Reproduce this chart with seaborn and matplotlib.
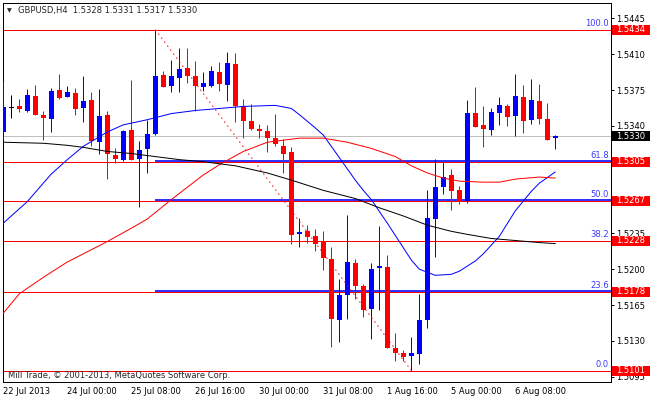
import matplotlib
matplotlib.use('Agg')
import matplotlib.pyplot as plt
import matplotlib.transforms as mtransforms
from matplotlib.patches import Rectangle
import seaborn as sns
import numpy as np

# GBPUSD H4 candles, bar 0 = 22 Jul 2013
opens = [1.5334, 1.5358, 1.5359, 1.5355, 1.5369, 1.5351, 1.5347, 1.5375, 1.5368, 1.5372,
         1.5357, 1.5365, 1.5324, 1.5351, 1.5312, 1.5307, 1.5336, 1.5308, 1.5317, 1.5332,
         1.5390, 1.5379, 1.5387, 1.5397, 1.5389, 1.5378, 1.5379, 1.5393, 1.5380, 1.5400,
         1.5359, 1.5345, 1.5337, 1.5335, 1.5328, 1.5320, 1.5314, 1.5234, 1.5237, 1.5232,
         1.5227, 1.5210, 1.5150, 1.5175, 1.5206, 1.5184, 1.5161, 1.5201, 1.5202, 1.5123,
         1.5118, 1.5115, 1.5117, 1.5150, 1.5249, 1.5280, 1.5292, 1.5277, 1.5267, 1.5353,
         1.5341, 1.5336, 1.5353, 1.5359, 1.5350, 1.5368, 1.5346, 1.5364, 1.5347, 1.5328]
highs = [1.5384, 1.5370, 1.5366, 1.5376, 1.5380, 1.5355, 1.5377, 1.5391, 1.5379, 1.5377,
         1.5389, 1.5373, 1.5376, 1.5355, 1.5318, 1.5336, 1.5385, 1.5325, 1.5346, 1.5434,
         1.5394, 1.5404, 1.5416, 1.5416, 1.5403, 1.5393, 1.5398, 1.5402, 1.5412, 1.5411,
         1.5366, 1.5361, 1.5342, 1.5341, 1.5352, 1.5327, 1.5319, 1.5250, 1.5243, 1.5239,
         1.5237, 1.5222, 1.5190, 1.5253, 1.5210, 1.5186, 1.5206, 1.5242, 1.5214, 1.5138,
         1.5121, 1.5134, 1.5176, 1.5277, 1.5308, 1.5305, 1.5298, 1.5281, 1.5365, 1.5378,
         1.5359, 1.5357, 1.5368, 1.5361, 1.5391, 1.5380, 1.5386, 1.5381, 1.5362, 1.5331]
lows = [1.5327, 1.5348, 1.5354, 1.5354, 1.5351, 1.5326, 1.5334, 1.5366, 1.5368, 1.5351,
        1.5344, 1.5320, 1.5313, 1.5288, 1.5304, 1.5306, 1.5307, 1.5261, 1.5294, 1.5331,
        1.5378, 1.5373, 1.5373, 1.5382, 1.5355, 1.5374, 1.5378, 1.5374, 1.5364, 1.5344,
        1.5328, 1.5336, 1.5328, 1.5314, 1.5320, 1.5294, 1.5225, 1.5222, 1.5226, 1.5218,
        1.5199, 1.5124, 1.5129, 1.5151, 1.5171, 1.5153, 1.5132, 1.5160, 1.5123, 1.5110,
        1.5110, 1.5101, 1.5107, 1.5143, 1.5212, 1.5273, 1.5258, 1.5264, 1.5265, 1.5339,
        1.5319, 1.5331, 1.5341, 1.5340, 1.5330, 1.5333, 1.5342, 1.5342, 1.5326, 1.5317]
closes = [1.5358, 1.5358, 1.5356, 1.5370, 1.5351, 1.5348, 1.5374, 1.5367, 1.5373, 1.5356,
          1.5364, 1.5325, 1.5350, 1.5313, 1.5308, 1.5335, 1.5307, 1.5316, 1.5332, 1.5389,
          1.5378, 1.5389, 1.5396, 1.5389, 1.5379, 1.5382, 1.5394, 1.5381, 1.5401, 1.5359,
          1.5345, 1.5337, 1.5335, 1.5328, 1.5322, 1.5313, 1.5233, 1.5236, 1.5231, 1.5225,
          1.5211, 1.5151, 1.5175, 1.5207, 1.5184, 1.5160, 1.5200, 1.5203, 1.5123, 1.5118,
          1.5114, 1.5118, 1.5150, 1.5250, 1.5280, 1.5290, 1.5276, 1.5267, 1.5353, 1.5339,
          1.5337, 1.5354, 1.5360, 1.5349, 1.5369, 1.5345, 1.5365, 1.5347, 1.5326, 1.5330]

# moving averages, read at some bars
ma_blue_idx = [0, 3, 6, 8, 10, 13, 15, 18, 21, 24, 27, 30, 34, 36, 37, 39, 40, 42, 44, 45,
               46, 48, 50, 51, 52, 54, 56, 57, 59, 60, 62, 64, 66, 67, 69]
ma_blue = [1.5245, 1.5266, 1.5293, 1.5307, 1.5320, 1.5334, 1.5341, 1.5346, 1.5352, 1.5355,
           1.5357, 1.5359, 1.5360, 1.5357, 1.5351, 1.5338, 1.5331, 1.5309, 1.5287, 1.5277,
           1.5268, 1.5245, 1.5221, 1.5209, 1.5200, 1.5194, 1.5195, 1.5198, 1.5208, 1.5215,
           1.5232, 1.5257, 1.5276, 1.5284, 1.5295]
ma_red_idx = [0, 2, 5, 8, 10, 13, 16, 18, 21, 23, 25, 27, 30, 33, 37, 40, 43, 46, 49, 51,
              53, 55, 57, 60, 62, 64, 67, 69]
ma_red = [1.5157, 1.5176, 1.5192, 1.5207, 1.5215, 1.5227, 1.5240, 1.5249, 1.5268, 1.5280,
          1.5292, 1.5302, 1.5315, 1.5324, 1.5328, 1.5328, 1.5324, 1.5318, 1.5310, 1.5301,
          1.5294, 1.5289, 1.5286, 1.5285, 1.5285, 1.5288, 1.5290, 1.5289]
ma_black_idx = [0, 5, 8, 10, 13, 16, 18, 22, 25, 29, 33, 36, 40, 44, 47, 50, 53, 56, 58,
                61, 64, 67, 69]
ma_black = [1.5324, 1.5323, 1.5321, 1.5319, 1.5315, 1.5313, 1.5311, 1.5307, 1.5305, 1.5301,
            1.5294, 1.5287, 1.5277, 1.5269, 1.5260, 1.5252, 1.5243, 1.5237, 1.5234, 1.5230,
            1.5228, 1.5226, 1.5225]

# fibonacci retracement from bar 19 high to bar 51 low
fib_anchor_idx = [19, 51]
fib_anchor_price = [1.5434, 1.5101]
fib_names = ['100.0', '61.8', '50.0', '38.2', '23.6', '0.0']
fib_prices = [1.5434, 1.5305, 1.5267, 1.5228, 1.5178, 1.5101]
blue_levels = [1.5306, 1.5268, 1.5179]
last_price = 1.5330

yticks = [1.5095, 1.5130, 1.5165, 1.5200, 1.5235, 1.5270, 1.5305, 1.5340, 1.5375, 1.5410, 1.5445]
hidden_yticks = [1.5270, 1.5305]  # fully covered by price tags
xtick_idx = [0, 8, 16, 24, 32, 40, 48, 56, 64]
xtick_labels = ['22 Jul 2013', '24 Jul 00:00', '25 Jul 08:00', '26 Jul 16:00', '30 Jul 00:00',
                '31 Jul 08:00', '1 Aug 16:00', '5 Aug 00:00', '6 Aug 08:00']

BLUE = '#0000ff'
RED = '#ff0000'
PX = 0.72  # one pixel in points

sns.set_style('white')
plt.rcParams['font.family'] = ['DejaVu Sans']
plt.rcParams['font.size'] = 6

W, H = 650, 400
fig = plt.figure(figsize=(6.5, 4), dpi=100)
left, right, top, bottom = 2.7, 610.7, 2.7, 381.7
ax = fig.add_axes([left / W, 1 - bottom / H, (right - left) / W, (bottom - top) / H])

# background lines
ax.axhline(last_price, color='#c0c0c0', lw=PX, zorder=1)
for p in fib_prices:
    ax.axhline(p, color=RED, lw=PX, zorder=1.5)
ax.hlines(blue_levels, fib_anchor_idx[0], 80, color=BLUE, lw=1.6 * PX, zorder=1.6)

# candles
o, h, l, c = map(np.array, (opens, highs, lows, closes))
bars = np.arange(len(o))
cols = np.where(c > o, BLUE, np.where(c < o, RED, 'black'))
ax.vlines(bars, l, h, colors=cols, lw=PX, zorder=3)
body = np.abs(c - o)
thin = body < 0.0001
heights = np.where(thin, 0.0001, body)
bottoms = np.where(thin, (o + c) / 2 - 0.00005, np.minimum(o, c))
ax.bar(bars, heights, bottom=bottoms, width=0.625, color=cols, linewidth=0, zorder=3)

# moving averages
sns.lineplot(x=ma_blue_idx, y=ma_blue, color=BLUE, lw=PX, ax=ax, zorder=4)
sns.lineplot(x=ma_red_idx, y=ma_red, color=RED, lw=PX, ax=ax, zorder=4)
sns.lineplot(x=ma_black_idx, y=ma_black, color='black', lw=PX, ax=ax, zorder=4)
ax.plot(fib_anchor_idx, fib_anchor_price, color=RED, lw=PX, linestyle=(0, (1.5, 3.5)), zorder=4)

# fib level labels
tr = mtransforms.blended_transform_factory(ax.transAxes, ax.transData)
for name, p in zip(fib_names, fib_prices):
    ax.annotate(name, xy=(1, p), xycoords=tr, xytext=(-1.5, 1.2), textcoords='offset points',
                ha='right', va='bottom', color='#3a3aff', fontsize=6, zorder=6)

ax.set_xlim(-0.075, 75.925)
ax.set_ylim(1.50901, 1.54603)

ax.yaxis.tick_right()
ax.set_yticks(yticks, ['' if v in hidden_yticks else f'{v:.4f}' for v in yticks])
ax.set_xticks(xtick_idx, xtick_labels)
for t in ax.get_xticklabels():
    t.set_ha('left')
ax.tick_params(axis='y', length=2.2, width=PX, pad=2, labelsize=6, colors='black')
ax.tick_params(axis='x', length=2.2, width=PX, pad=1.5, labelsize=6, colors='black')
for s in ax.spines.values():
    s.set_color('black')
    s.set_linewidth(PX)
ax.set_xlabel('')
ax.set_ylabel('')
ax.grid(False)

# price tags on the right scale
tag_tr = mtransforms.blended_transform_factory(fig.transFigure, ax.transData)
tags = [(p, RED) for p in fib_prices] + [(last_price, 'black')]
for p, col in tags:
    fig.add_artist(Rectangle((612 / W, p - 0.00049), 38 / W, 0.00098, transform=tag_tr,
                             facecolor=col, edgecolor='none', zorder=10))
    fig.text(616.5 / W, p, f'{p:.4f}', transform=tag_tr, color='white', fontsize=6,
             va='center', ha='left', zorder=11)

# header and footer text
fig.text(9.5 / W, 1 - 11 / H, '\u25bc', fontsize=4.5, ha='center', va='center')
fig.text(18 / W, 1 - 11 / H, 'GBPUSD,H4  1.5328 1.5331 1.5317 1.5330', fontsize=6, va='center')
fig.text(7.5 / W, 1 - 375 / H, 'Mill Trade, \u00a9 2001-2013, MetaQuotes Software Corp.',
         fontsize=6, va='center')

fig.savefig('out.png', dpi=100, facecolor='white')
